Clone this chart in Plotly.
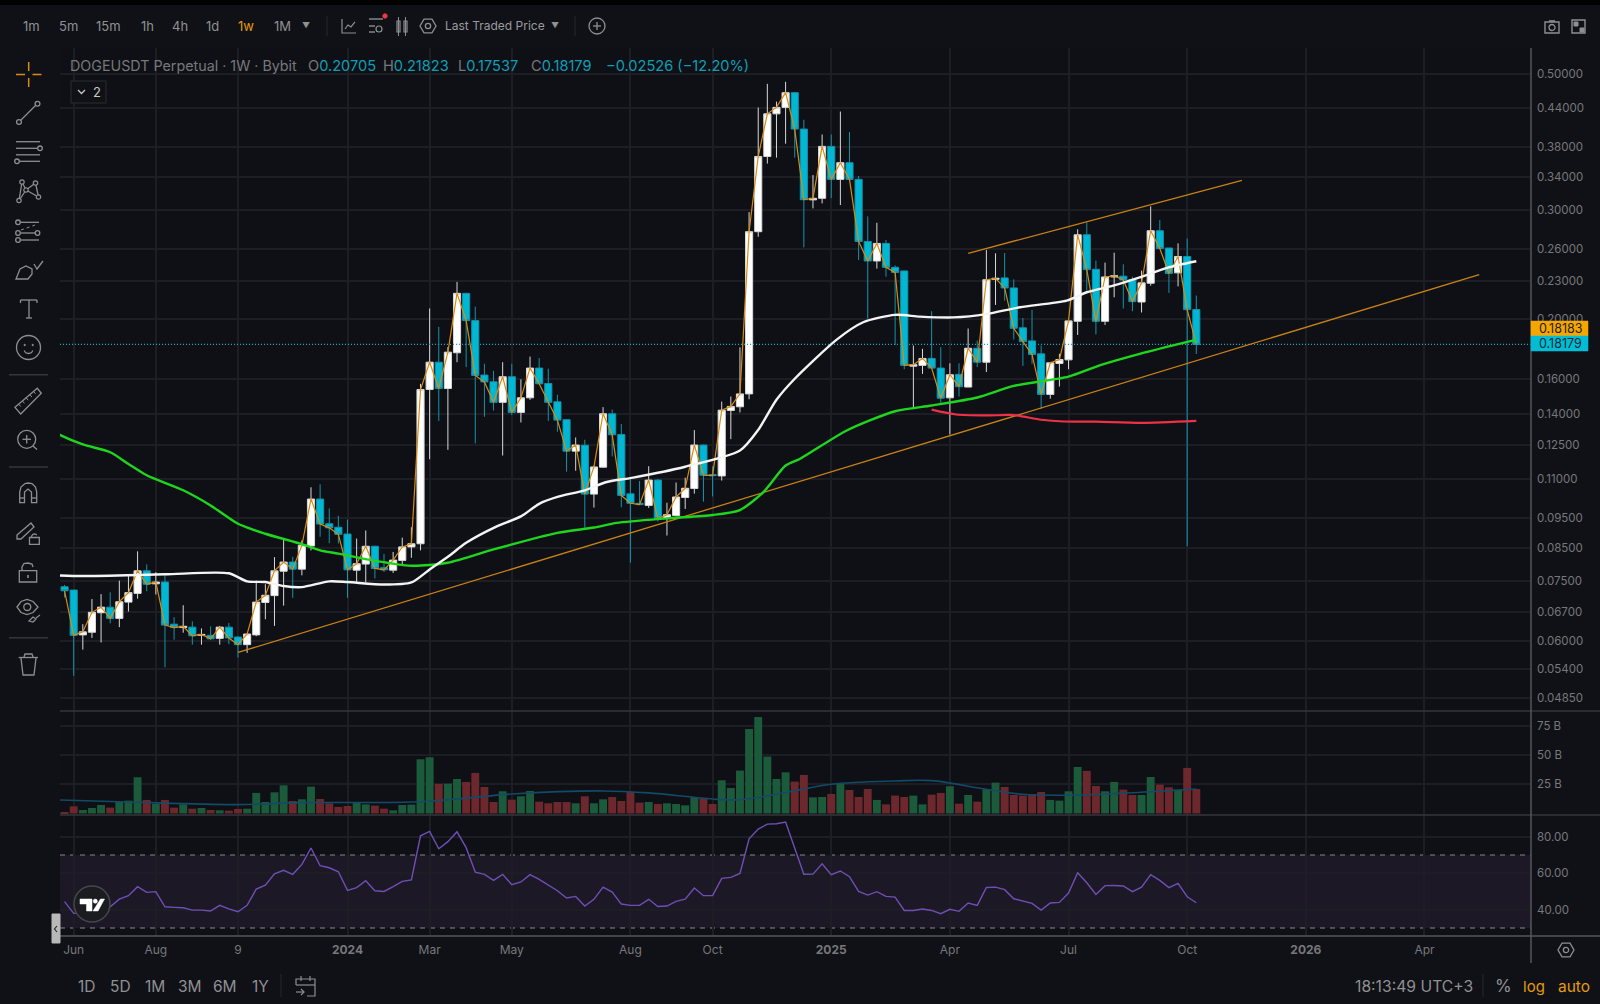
import math
import pandas as pd
import plotly.graph_objects as go

W, H = 1600, 1004

# ---------- data ----------
first_week = "2023-05-29"
opens = [.0735,.0726,.0614,.0620,.0667,.0681,.0653,.0694,.0717,.0780,
.0743,.0748,.0639,.0631,.0632,.0613,.0613,.0606,.0632,.0609,
.0592,.0614,.0693,.0711,.0779,.0806,.0785,.0856,.1020,.0930,
.0918,.0895,.0782,.0800,.0855,.0789,.0782,.0811,.0853,.0863,
.1536,.1701,.1542,.1762,.2200,.1987,.1621,.1581,.1464,.1611,
.1410,.1489,.1664,.1571,.1467,.1372,.1220,.1247,.1039,.1149,
.1403,.1298,.1040,.1004,.0996,.1095,.0949,.0959,.1026,.1061,
.1248,.1118,.1112,.1420,.1440,.1511,.2770,.3669,.4303,.4408,
.4657,.4065,.3120,.3138,.3810,.3368,.3585,.3368,.2671,.2483,
.2651,.2425,.2392,.1676,.1681,.1725,.1664,.1489,.1625,.1550,
.1792,.1701,.2318,.2331,.2245,.1934,.1842,.1755,.1508,.1693,
.1716,.1982,.2738,.2407,.1982,.2339,.2346,.2316,.2130,.2285,
.2780,.2606,.2375,.2525,.20705]
highs = [.0740,.0726,.0639,.0702,.0715,.0720,.0752,.0765,.0839,.0799,
.0776,.0772,.0656,.0686,.0646,.0629,.0634,.0635,.0642,.0611,
.0618,.0752,.0742,.0821,.0876,.0822,.0874,.1066,.1078,.0985,
.0958,.0945,.0880,.0907,.0857,.0831,.0837,.0883,.0918,.1569,
.2079,.1941,.1800,.2296,.2205,.2093,.1691,.1647,.1701,.1691,
.1595,.1737,.1728,.1660,.1506,.1373,.1284,.1273,.1155,.1438,
.1425,.1350,.1105,.1091,.1153,.1099,.1006,.1085,.1105,.1320,
.1250,.1153,.1468,.1496,.1798,.2980,.4405,.4813,.4504,.4850,
.4667,.4208,.3423,.3983,.3983,.4340,.4019,.3410,.2933,.2864,
.2685,.2442,.2395,.1810,.1788,.2058,.1799,.1694,.1694,.1929,
.1844,.2586,.2555,.2558,.2318,.2007,.2068,.1810,.1697,.1755,
.1985,.2795,.2868,.2486,.2468,.2561,.2452,.2341,.2395,.3045,
.2893,.2606,.2652,.2700,.21823]
lows = [.0706,.0527,.0581,.0607,.0597,.0641,.0632,.0670,.0703,.0723,
.0714,.0544,.0603,.0619,.0592,.0592,.0603,.0592,.0593,.0564,
.0574,.0611,.0651,.0635,.0685,.0705,.0767,.0842,.0886,.0865,
.0864,.0705,.0747,.0747,.0758,.0777,.0774,.0796,.0819,.0842,
.1184,.1366,.1226,.1701,.1670,.1256,.1387,.1420,.1200,.1396,
.1358,.1478,.1565,.1366,.1312,.1130,.1134,.0917,.0988,.1147,
.1196,.0989,.0804,.0998,.0987,.0938,.0890,.0956,.0983,.1041,
.1010,.1030,.1093,.1276,.1410,.1481,.2718,.3573,.3653,.3849,
.3653,.2612,.3022,.3079,.3140,.3060,.3368,.2492,.2002,.2413,
.2341,.1814,.1657,.1427,.1628,.1660,.1459,.1298,.1496,.1550,
.1670,.1640,.2107,.2141,.1851,.1678,.1691,.1428,.1484,.1553,
.1657,.1883,.2222,.1887,.1955,.2168,.2079,.2058,.2048,.2264,
.2602,.2204,.2258,.0855,.17537]
closes = [.0724,.0613,.0621,.0668,.0681,.0653,.0695,.0719,.0780,.0742,
.0748,.0637,.0631,.0634,.0612,.0615,.0605,.0632,.0607,.0592,
.0616,.0694,.0712,.0780,.0806,.0785,.0858,.1020,.0929,.0916,
.0894,.0783,.0801,.0855,.0787,.0783,.0812,.0853,.0863,.1536,
.1701,.1542,.1766,.2200,.1987,.1619,.1580,.1464,.1611,.1410,
.1489,.1664,.1569,.1464,.1370,.1220,.1248,.1039,.1150,.1403,
.1297,.1034,.1004,.0999,.1095,.0948,.0962,.1028,.1062,.1248,
.1115,.1113,.1422,.1442,.1511,.2770,.3669,.4303,.4408,.4657,
.4065,.3122,.3138,.3810,.3368,.3585,.3368,.2671,.2483,.2651,
.2425,.2379,.1681,.1685,.1725,.1664,.1487,.1623,.1552,.1792,
.1701,.2315,.2327,.2245,.1931,.1837,.1751,.1508,.1697,.1718,
.1985,.2738,.2404,.1982,.2339,.2349,.2313,.2133,.2288,.2780,
.2602,.2370,.2525,.2070,.18179]
volumes = [1.3,6.1,3.0,4.7,7.3,5.0,9.8,11.0,31.0,11.6,
8.4,11.6,5.0,7.8,4.1,4.7,3.0,2.7,2.4,3.9,
4.1,17.6,9.8,18.1,24.1,10.7,12.1,23.0,12.4,8.7,
5.6,6.4,9.6,7.8,6.7,4.1,2.7,7.3,7.6,46.4,
48.1,25.3,25.5,29.5,27.0,34.7,22.7,9.8,19.0,11.8,
14.7,19.3,10.1,8.7,9.8,9.8,8.7,14.7,8.7,12.1,
14.1,10.7,18.7,9.3,9.8,8.1,8.7,8.1,7.0,14.1,
13.0,8.1,28.4,21.8,36.7,72.3,82.6,48.7,29.5,35.2,
27.3,33.0,13.8,14.1,16.7,25.3,20.1,14.1,21.0,11.6,
7.8,15.3,14.1,15.3,7.8,16.1,17.6,23.3,8.4,15.8,
10.1,20.7,26.4,22.7,15.8,15.3,16.4,18.4,11.6,11.0,
19.0,39.8,36.4,23.5,19.0,27.0,20.4,15.8,15.8,31.2,
24.7,22.4,20.4,39.0,21.0]
rsi = [44.4,38.0,38.5,39.0,40.5,41.6,45.8,47.7,52.6,49.5,
49.9,41.6,41.3,41.1,39.8,39.8,39.3,42.4,40.5,38.9,
42.4,51.3,53.5,59.7,61.6,59.4,64.8,73.8,64.1,63.0,
60.8,50.6,52.1,55.9,50.4,50.0,52.6,55.5,56.3,80.5,
82.9,73.4,77.3,82.7,74.0,60.6,59.4,56.1,59.4,53.7,
55.2,59.2,56.6,53.5,50.4,46.4,47.3,42.0,45.7,52.4,
49.7,43.1,42.4,42.4,45.7,41.8,42.0,44.6,45.8,51.9,
47.7,47.7,57.2,57.7,59.9,78.9,84.2,86.9,87.1,88.0,
73.6,59.4,59.5,65.2,59.2,61.2,58.1,50.0,48.0,49.9,
47.3,46.9,39.6,39.6,40.4,39.6,37.8,40.2,39.1,43.7,
42.4,52.2,52.4,51.0,46.0,44.7,43.5,39.8,43.7,44.0,
49.1,60.3,54.8,48.4,53.2,53.3,53.0,49.9,52.4,59.2,
56.1,52.1,54.4,47.1,43.8]

white_ma_weeks = [-2,1,10,17,19,21,23,25,28,30,34,37,39,41,43,46.3,49,51,53,56,58.4,61.3,67,73,75,77,79,83.6,86.5,90,92.7,96.4,100,103.7,108.8,111,113.9,116.8,119.8,123]
white_ma = [.0767,.0765,.0770,.0773,.0750,.0748,.0737,.0734,.0750,.0748,.0741,.0747,.0784,.0822,.0866,.0920,.0956,.1002,.1028,.1054,.1087,.1105,.1151,.1223,.1321,.1478,.1599,.1851,.1975,.2030,.2017,.2011,.2036,.2089,.2141,.2209,.2264,.2335,.2420,.2480]
green_ma_weeks = [-2,-1.4,1,4,6,8,12,15,18,21,25,27,29,32,37,41,46,53,57,59.5,65,70,73,75.6,78,79.6,84.7,90,94,99,103,109,112.4,116.8,122.6,123]
green_ma = [.1310,.1294,.1251,.1215,.1163,.1115,.1054,.0996,.0930,.0896,.0862,.0842,.0832,.0815,.0795,.0804,.0845,.0899,.0917,.0933,.0949,.0961,.0979,.1048,.1156,.1186,.1318,.1416,.1447,.1491,.1557,.1612,.1681,.1755,.1844,.1850]
red_ma_weeks = [94,96.7,100,103,106,108.5,112,117,123]
red_ma = [.1425,.1399,.1394,.1396,.1372,.1363,.1362,.1356,.1366]
vol_ma_weeks = [-2,6,18,25,37,42,48,58,63,70,73,78,83,90,94,100,104,110,116,123]
vol_ma = [11.6,9.8,7.6,9.3,9.8,12.4,16.7,19.3,17.6,12.4,11.8,17.8,25.0,27.8,28.1,20.7,16.4,15.8,17.8,21.0]
lower_trend_weeks = [18,154]
lower_trend = [.0575,.2360]
upper_trend_weeks = [98,128]
upper_trend = [.2555,.3356]
last_price = .18179

price_ticks = [.5,.44,.38,.34,.30,.26,.23,.20,.16,.14,.125,.11,.095,.085,.075,.067,.06,.054,.0485]
volume_ticks = [25,50,75]
rsi_ticks = [40,60,80]
time_tick_dates = ["2023-06-05","2023-08-07","2023-10-09","2024-01-01","2024-03-04","2024-05-06","2024-08-05","2024-10-07","2025-01-06","2025-04-07","2025-07-07","2025-10-06","2026-01-05","2026-04-06"]
time_tick_text = ["Jun","Aug","9","<b>2024</b>","Mar","May","Aug","Oct","<b>2025</b>","Apr","Jul","Oct","<b>2026</b>","Apr"]

# ---------- helpers ----------
BG = "#101116"
GRID = "#1d1e23"
SEP = "#35363b"
ICON = "#8e8e92"
ORANGE = "#e39a12"
CYAN = "#00b7d4"
TXT = "#8f9094"
FONT = "Inter"

base = pd.Timestamp("2023-06-05")
def week(i):
    return (base + pd.Timedelta(days=7 * i)).isoformat()
candle_dates = pd.date_range(first_week, periods=len(opens), freq="7D")

def px(x): return x / W
def py(y): return 1 - y / H

shapes, annos = [], []
def poly(pts, color=ICON, width=1.3, close=False, fill=None):
    d = "M" + " L".join(f"{px(a):.5f},{py(b):.5f}" for a, b in pts) + (" Z" if close else "")
    s = dict(type="path", xref="paper", yref="paper", path=d, line=dict(color=color, width=width))
    if fill: s["fillcolor"] = fill
    shapes.append(s)
def seg(x0, y0, x1, y1, color=ICON, width=1.3, dash=None):
    s = dict(type="line", xref="paper", yref="paper", x0=px(x0), x1=px(x1), y0=py(y0), y1=py(y1),
             line=dict(color=color, width=width))
    if dash: s["line"]["dash"] = dash
    shapes.append(s)
def circ(cx, cy, r, color=ICON, width=1.3, fill=None):
    s = dict(type="circle", xref="paper", yref="paper", x0=px(cx - r), x1=px(cx + r), y0=py(cy - r), y1=py(cy + r),
             line=dict(color=color, width=width))
    if fill: s["fillcolor"] = fill
    shapes.append(s)
def rect(x0, y0, x1, y1, color=ICON, width=1.3, fill=None):
    s = dict(type="rect", xref="paper", yref="paper", x0=px(x0), x1=px(x1), y0=py(y0), y1=py(y1),
             line=dict(color=color, width=width))
    if fill: s["fillcolor"] = fill
    shapes.append(s)
def arc(cx, cy, r, a0, a1, color=ICON, width=1.3, n=14):
    poly([(cx + r * math.cos(math.radians(a0 + (a1 - a0) * k / n)),
           cy + r * math.sin(math.radians(a0 + (a1 - a0) * k / n))) for k in range(n + 1)], color, width)
def hexa(cx, cy, r, color=ICON, width=1.3):
    poly([(cx + r * math.cos(math.radians(60 * k)), cy + r * math.sin(math.radians(60 * k))) for k in range(6)], color, width, close=True)
    circ(cx, cy, r * .33, color, width)
def text(x, y, s, color=TXT, size=13, anchor="center", family=FONT):
    annos.append(dict(xref="paper", yref="paper", x=px(x), y=py(y), text=s, showarrow=False,
                      xanchor=anchor, yanchor="middle", font=dict(color=color, size=size, family=family)))

# ---------- traces ----------
fig = go.Figure()
fig.add_trace(go.Bar(x=candle_dates, y=volumes, yaxis="y2", width=6.06 * 86400000,
                     marker=dict(color=["#1c5a3c" if c >= o else "#6d282e" for o, c in zip(opens, closes)], line=dict(width=0)),
                     showlegend=False))
fig.add_trace(go.Scatter(x=[week(i) for i in vol_ma_weeks], y=vol_ma, yaxis="y2", mode="lines",
                         line=dict(color="#124a68", width=1.6, shape="spline"), showlegend=False))
fig.add_trace(go.Scatter(x=candle_dates, y=rsi, yaxis="y3", mode="lines",
                         line=dict(color="#6f4fb5", width=1.4), showlegend=False))
fig.add_trace(go.Scatter(x=[week(-1.5), week(159.67)], y=[last_price, last_price], mode="lines",
                         line=dict(color="#12a8c4", width=1.2, dash="1px,2px"), showlegend=False))
fig.add_trace(go.Scatter(x=candle_dates, y=closes, mode="lines", line=dict(color="#d98c10", width=1.2), showlegend=False))
fig.add_trace(go.Candlestick(x=candle_dates, open=opens, high=highs, low=lows, close=closes,
                             increasing=dict(line=dict(color="#d8d8d8", width=1), fillcolor="#ffffff"),
                             decreasing=dict(line=dict(color="#1593ab", width=1), fillcolor=CYAN),
                             whiskerwidth=0, showlegend=False))
fig.add_trace(go.Scatter(x=[week(i) for i in lower_trend_weeks], y=lower_trend, mode="lines",
                         line=dict(color="#c98216", width=1.3), showlegend=False))
fig.add_trace(go.Scatter(x=[week(i) for i in upper_trend_weeks], y=upper_trend, mode="lines",
                         line=dict(color="#c98216", width=1.3), showlegend=False))
fig.add_trace(go.Scatter(x=[week(i) for i in green_ma_weeks], y=green_ma, mode="lines",
                         line=dict(color="#1fd61f", width=2.4, shape="spline", smoothing=.7), showlegend=False))
fig.add_trace(go.Scatter(x=[week(i) for i in white_ma_weeks], y=white_ma, mode="lines",
                         line=dict(color="#f4f4f4", width=2.4, shape="spline", smoothing=.7), showlegend=False))
fig.add_trace(go.Scatter(x=[week(i) for i in red_ma_weeks], y=red_ma, mode="lines",
                         line=dict(color="#ef3049", width=2.2, shape="spline", smoothing=.7), showlegend=False))

# ---------- RSI band ----------
shapes.append(dict(type="rect", xref="paper", yref="y3", x0=px(60), x1=px(1531), y0=30, y1=70,
                   fillcolor="#1c1826", line=dict(width=0), layer="below"))
for lvl in (30, 70):
    shapes.append(dict(type="line", xref="paper", yref="y3", x0=px(60), x1=px(1531), y0=lvl, y1=lvl,
                       line=dict(color="#85858a", width=1.1, dash="5px,5px"), layer="below"))

# ---------- frame ----------
rect(0, 0, W, 5, color="#000000", width=0, fill="#000000")
seg(60, 711, W, 711, SEP, 1.5)
seg(60, 815, W, 815, SEP, 1.5)
seg(60, 936, W, 936, "#55565a", 1.5)
seg(1531, 48, 1531, 963, "#55565a", 1.5)

# ---------- top bar ----------
for x, s, c in [(31,"1m",TXT),(68,"5m",TXT),(108,"15m",TXT),(147,"1h",TXT),(180,"4h",TXT),(212,"1d",TXT),(246,"1w",ORANGE),(282,"1M",TXT)]:
    text(x, 26, s, c, 13)
text(306, 25, "▼", TXT, 8)
seg(327, 16, 327, 36, "#26272c", 1)
poly([(342,19),(342,33),(356,33)], ICON, 1.2)
poly([(345,29),(348,25),(351,27),(355,22)], ICON, 1.2)
seg(369, 19, 383, 19, ICON, 1.4); seg(369, 26, 375, 26, ICON, 1.4); seg(369, 32, 375, 32, ICON, 1.4)
circ(379, 29, 3, ICON, 1.2); circ(385, 16, 2.2, "#f23645", 1, "#f23645")
rect(397, 21, 400, 32, ICON, 1.2); rect(404, 21, 407, 32, ICON, 1.2)
seg(398.5, 17, 398.5, 36, ICON, 1); seg(405.5, 17, 405.5, 36, ICON, 1)
hexa(428, 26, 8)
text(443, 26, "Last Traded Price", "#9a9a9e", 12, "left")
text(555, 25, "▼", TXT, 8)
seg(575, 16, 575, 36, "#26272c", 1)
circ(597, 26, 8, ICON, 1.3); seg(593, 26, 601, 26, ICON, 1.3); seg(597, 22, 597, 30, ICON, 1.3)
# top right
rect(1545, 22, 1559, 33, ICON, 1.4); seg(1549, 21, 1555, 21, ICON, 1.6); circ(1552, 27.5, 3, ICON, 1.3)
rect(1572, 20, 1585, 33, ICON, 1.4); rect(1574, 22, 1578, 26, ICON, 1, ICON); rect(1580, 28, 1584, 32, ICON, 1, ICON)

# ---------- legend ----------
V = "#0e9fb8"
G = "#77787c"
def sp(c, s): return f'<span style="color:{c}">{s}</span>'
text(68.4, 66, "DOGEUSDT Perpetual · 1W · Bybit", G, 14.3, "left")
text(305.5, 66, sp(G, "O") + sp(V, "0.20705"), G, 14.6, "left")
text(380.7, 66, sp(G, "H") + sp(V, "0.21823"), G, 14.6, "left")
text(456.2, 66, sp(G, "L") + sp(V, "0.17537"), G, 14.6, "left")
text(528.6, 66, sp(G, "C") + sp(V, "0.18179"), G, 14.6, "left")
text(603.6, 66, sp(V, "−0.02526 (−12.20%)"), V, 14.6, "left")
shapes.append(dict(type="rect", xref="paper", yref="paper", x0=px(71), x1=px(106), y0=py(103), y1=py(81),
                   line=dict(color="#2b2c31", width=1), fillcolor=BG))
poly([(78,90),(81.5,93.5),(85,90)], "#c8c8c8", 1.3)
text(97, 92, "2", "#c8c8c8", 13)

# ---------- left toolbar ----------
O = "#d98c10"
seg(16,74.5,25,74.5,O,1.5); seg(32.5,74.5,41.5,74.5,O,1.5); seg(28.7,62,28.7,71,O,1.5); seg(28.7,78,28.7,87,O,1.5)
seg(21,120,35.5,105.5); circ(19,122,2.4); circ(37.5,103.7,2.4)
seg(16,141.7,40,141.7); seg(16,148.3,37.5,148.3); circ(40,148.3,2.3); seg(16,154.8,40,154.8); seg(19.5,161.3,40,161.3); circ(17,161.3,2.3)
for a, b in [((22,182),(19,200.5)),((22,182),(26,190)),((26,190),(35.5,183)),((35.5,183),(38.5,197)),((26,190),(38.5,197)),((19,200.5),(26,190))]:
    seg(a[0],a[1],b[0],b[1])
for c in [(22,182),(35.5,183),(26,190),(38.5,197),(19,200.5)]:
    circ(c[0],c[1],2.2,ICON,1.2,BG)
seg(20.5,222.3,39,222.3); circ(18,222.3,2.3); seg(20.5,233,35,233); circ(18,233,2.3); circ(37.5,233,2.3)
seg(20.5,240,39,240); circ(18,240,2.3); seg(21,230,38,224,ICON,1,"dot")
poly([(16,279),(28,279),(32,274),(32,269),(26,266),(20,269)],ICON,1.3,True)
poly([(34,264),(37,269),(43,261)],ICON,1.3)
seg(20.5,300,37,300); seg(29,300,29,318); seg(26,318,32,318); seg(20.5,300,20.5,303); seg(37,300,37,303)
circ(28.5,347.5,12); circ(24.7,345,.7,ICON,1,ICON); circ(32.7,345,.7,ICON,1,ICON); arc(28.5,349,4.5,20,160)
seg(9,374.7,48,374.7,"#35363b",1.5)
poly([(15,407.3),(37.3,388.3),(41.3,393.3),(20.7,414)],ICON,1.3,True)
for k in range(1,6):
    a=(15+(37.3-15)*k/6, 407.3+(388.3-407.3)*k/6)
    seg(a[0],a[1],a[0]+2,a[1]+2.4,ICON,1)
circ(26.7,439.3,9); seg(22.5,439.3,31,439.3); seg(26.7,435,26.7,443.5); seg(33,446,37,449.5)
seg(9,467,48,467,"#35363b",1.5)
poly([(19.7,502.7),(19.7,492),(21,487),(25,483.5),(28,483),(32,483.5),(35.5,487),(36.7,492),(36.7,502.7),(31.5,502.7),(31.5,492),(28,489),(24.5,492),(24.5,502.7)],ICON,1.3,True)
seg(19.7,498,24.5,498); seg(31.5,498,36.7,498)
poly([(17,535),(31,523),(34,527),(21,539),(17,539)],ICON,1.3,True)
rect(29.5,537.5,39.3,544.3); arc(34.5,537,3,180,320)
rect(19.3,570.7,36.7,582); poly([(22,570.7),(22,567),(24,563.5),(28,563),(32,564),(33,567)]); seg(28,575,28,578,ICON,1.6)
poly([(17,607),(21,601.5),(27,599.5),(33,601.5),(38,607),(33,612.5),(27,614.5),(21,612.5)],ICON,1.3,True); circ(27.3,607,3.5)
poly([(29,621),(33,617),(36,619),(33,622)],ICON,1.2,True); seg(36,618,40,615,ICON,1.1)
seg(9,637.7,48,637.7,"#35363b",1.5)
seg(18.7,657.5,38,657.5); poly([(21,658),(23,675),(34,675),(36,658)]); poly([(24,657),(25,654),(32,654),(33,657)])

# ---------- TV logo and handle ----------
circ(92, 904, 18, "#46474b", 1.5, "#1b1c20")
poly([(80,899),(92,899),(92,911),(86.5,911),(86.5,904),(80,904)], "#ffffff", .5, True, "#ffffff")
circ(95.3, 901.2, 2.1, "#ffffff", .5, "#ffffff")
poly([(100.5,899),(104.5,899),(98,911),(93,911)], "#ffffff", .5, True, "#ffffff")
rect(52, 914, 60, 943, "#b8b8b8", 1, "#b8b8b8")
poly([(57,926),(54.5,929),(57,932)], "#222222", 1.1)

# ---------- price tags ----------
rect(1531, 321, 1588, 336, "#f7a600", .5, "#f7a600")
rect(1531, 336, 1588, 351, "#00bcd4", .5, "#00bcd4")
text(1560, 328.5, "0.18183", "#222222", 12.5)
text(1560, 344, "0.18179", "#0c2a33", 12.5)

# ---------- bottom bar ----------
for x, s in [(86.5,"1D"),(120,"5D"),(155,"1M"),(190,"3M"),(225,"6M"),(260,"1Y")]:
    text(x, 986, s, TXT, 15.5)
seg(281, 974, 281, 997, "#26272c", 1)
poly([(296,985),(296,979),(315,979),(315,996),(307,996)], ICON, 1.2); seg(296,985,315,985,ICON,1.2)
seg(301,976,301,981,ICON,1.2); seg(310,976,310,981,ICON,1.2); seg(296,992,304,992,ICON,1.2); poly([(301,989),(304,992),(301,995)],ICON,1.2)
text(1353, 986, "18:13:49 UTC+3", TXT, 15.7, "left")
seg(1483, 974, 1483, 997, "#26272c", 1)
text(1503, 986, "%", TXT, 17)
text(1534, 986, "log", ORANGE, 15)
text(1574, 986, "auto", ORANGE, 15.5)
hexa(1566, 950, 8)

# ---------- layout ----------
tick = dict(color="#77787c", size=11.5, family=FONT)
fig.update_layout(
    width=W, height=H, margin=dict(l=0, r=0, t=0, b=0), autosize=False,
    paper_bgcolor=BG, plot_bgcolor="#0f1015", showlegend=False, barmode="overlay", boxgap=.22, boxgroupgap=0,
    font=dict(family=FONT),
    shapes=shapes, annotations=annos, hovermode=False,
    xaxis=dict(domain=[px(60), px(1531)], anchor="y3", type="date", range=[week(-1.5), week(159.67)],
               tickmode="array", tickvals=time_tick_dates, ticktext=time_tick_text, tickfont=dict(color="#77787c", size=12, family=FONT),
               ticklabelstandoff=5,
               showgrid=True, gridcolor=GRID, gridwidth=1.5, zeroline=False, showline=False, ticks="",
               rangeslider=dict(visible=False), fixedrange=True),
    yaxis=dict(domain=[py(711), py(48)], anchor="x", type="log", side="right",
               range=[math.log10(.0462), math.log10(.5503)], ticklabelstandoff=5,
               tickmode="array", tickvals=price_ticks, ticktext=[f"{v:.5f}" for v in price_ticks], tickfont=tick,
               showgrid=True, gridcolor=GRID, gridwidth=1.5, zeroline=False, showline=False, ticks="", fixedrange=True),
    yaxis2=dict(domain=[py(815), py(711)], anchor="x", side="right", range=[-1.3, 87.7], ticklabelstandoff=5,
                tickmode="array", tickvals=volume_ticks, ticktext=[f"{v} B" for v in volume_ticks], tickfont=tick,
                showgrid=True, gridcolor=GRID, gridwidth=1.5, zeroline=False, showline=False, ticks="", fixedrange=True),
    yaxis3=dict(domain=[py(936), py(815)], anchor="x", side="right", range=[25.6, 91.9], ticklabelstandoff=5,
                tickmode="array", tickvals=rsi_ticks, ticktext=[f"{v:.2f}" for v in rsi_ticks], tickfont=tick,
                showgrid=True, gridcolor=GRID, gridwidth=1.5, zeroline=False, showline=False, ticks="", fixedrange=True),
)
fig.write_html("out.html", config=dict(displayModeBar=False, responsive=False),
               post_script="document.body.style.margin='0';document.body.style.background='#101116';")
